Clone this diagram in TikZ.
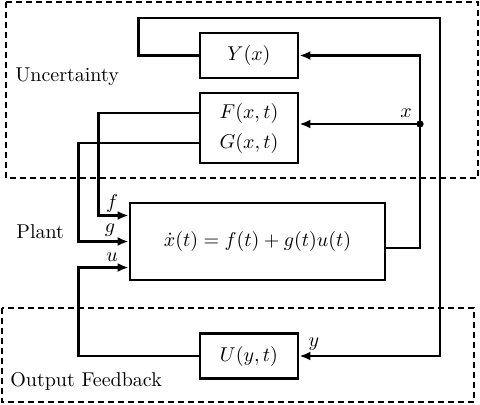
\documentclass[tikz,border=0pt]{standalone}
\usetikzlibrary{arrows.meta,positioning,calc}
\tikzset{
    blk/.style={draw, line width=1.4pt, minimum width=49pt, minimum height=22.5pt, inner sep=0pt},
    wire/.style={line width=1.4pt},
    sig/.style={wire, -{Latex[length=5.5pt,width=4.5pt]}},
    region/.style={draw, line width=1.3pt, dash pattern=on 3pt off 2pt},
    lbl/.style={inner sep=0pt},
}
\begin{document}
\begin{tikzpicture}[x=0.5pt,y=-0.5pt]
            \useasboundingbox (0,0) rectangle (480,404);
            % regions
            \draw[region] (6,2) rectangle (478,178);
            \draw[region] (2,308) rectangle (474,402);
            \node[lbl, anchor=west] (unc) at (15,77) {Uncertainty};
            \node[lbl, anchor=west] (plant) at (16,232) {Plant};
            \node[lbl, anchor=west] (ofb) at (10,381) {Output Feedback};

            % blocks
            \node[blk] (Y) at (249,55.5) {$Y(x)$};
            \node[blk, minimum height=35pt] (FG) at (249,128) {};
            \node (F) at (249,113) {$F(x,t)$};
            \node (G) at (249,143) {$G(x,t)$};
            \node[blk, minimum width=127.5pt, minimum height=38.5pt] (P) at (257.5,241.5)
                {$\dot{x}(t) = f(t) + g(t)u(t)$};
            \node[blk] (U) at (249,356) {$U(y,t)$};

            \coordinate (xj) at (420,124);
            \coordinate (yc) at (440,18);
            \fill (xj) circle (1.8pt);

            % connectors
            \draw[wire] ([yshift=-3.25pt]P.east) -| (xj);
            \draw[sig] (xj) |- (Y.east);
            \draw[sig] (xj) -- (xj -| FG.east);
            \draw[sig] (Y.west) -- ++(-60,0) |- (yc) |- (U.east);
            \draw[sig] (F -| FG.west) -- ++(-100,0) |- ([yshift=13pt]P.west);
            \draw[sig] (G -| FG.west) -- ++(-120,0) |- (P.west);
            \draw[sig] (U.west) -- ++(-120,0) |- ([yshift=-13pt]P.west);

            % signal labels
            \node[lbl] (lf) at (112,203) {$f$};
            \node[lbl] (lg) at (110,230) {$g$};
            \node[lbl] (lu) at (112,257) {$u$};
            \node[lbl] (lx) at (406,113) {$x$};
            \node[lbl] (ly) at (314,344) {$y$};
        \end{tikzpicture}
\end{document}
